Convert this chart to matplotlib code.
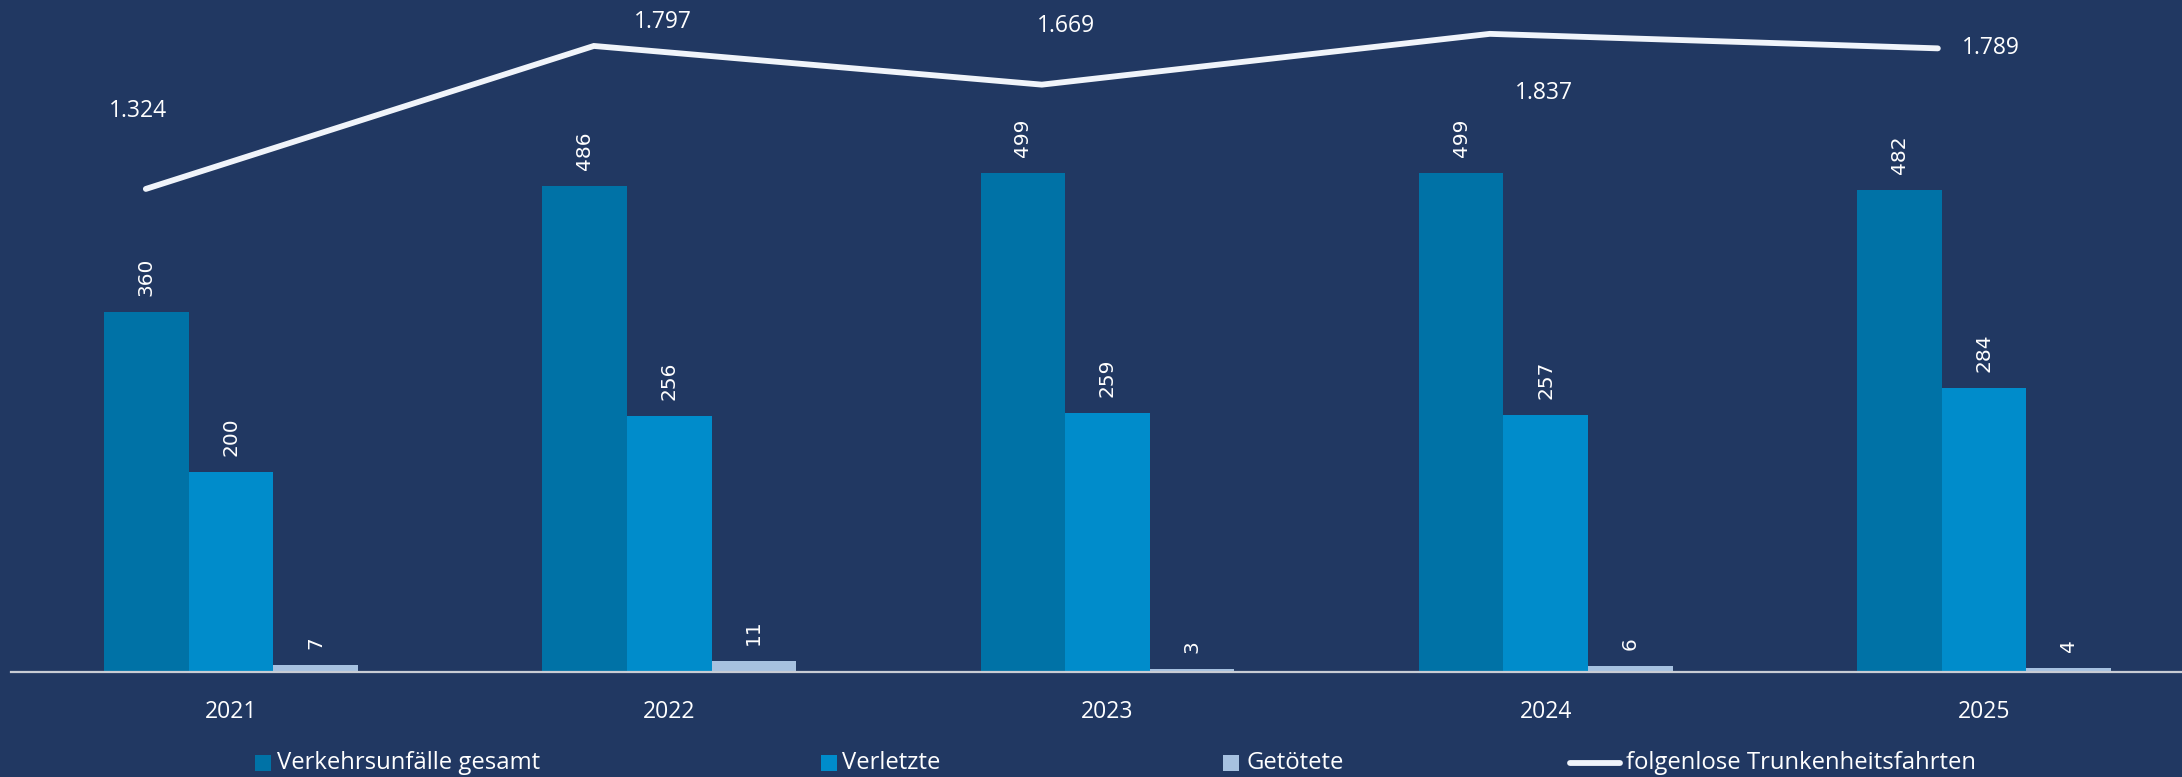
import numpy as np
import matplotlib
matplotlib.use("Agg")
import matplotlib.pyplot as plt
from matplotlib.patches import Rectangle
from matplotlib.lines import Line2D

# Datos
years = ['2021', '2022', '2023', '2024', '2025']
unfaelle = [360, 486, 499, 499, 482]
verletzte = [200, 256, 259, 257, 284]
getoetete = [7, 11, 3, 6, 4]
trunkenheit = [1324, 1797, 1669, 1837, 1789]
seriesNames = ['Verkehrsunfälle gesamt', 'Verletzte', 'Getötete', 'folgenlose Trunkenheitsfahrten']

BG = '#213862'
C1 = '#0072a6'
C2 = '#008ccb'
C3 = '#a6c1e0'
LINEC = '#f0f4fa'
FONT = ['Open Sans', 'DejaVu Sans']

W, H = 2182, 777
fig = plt.figure(figsize=(W / 100, H / 100), dpi=100, facecolor=BG)

def fx(px):
    return px / W

def fy(py):
    return 1 - py / H

# Barras
ax = fig.add_axes([fx(11), fy(672), fx(2171), 672 / H])
ax.set_facecolor(BG)
x = np.arange(len(years))
w = 0.193
for vals, off, col in [(unfaelle, -w, C1), (verletzte, 0, C2), (getoetete, w, C3)]:
    bars = ax.bar(x + off, vals, width=w, color=col, zorder=2)
    for b, v in zip(bars, vals):
        ax.annotate(str(v), (b.get_x() + b.get_width() / 2, v), xytext=(0, 16),
                    textcoords='offset pixels', rotation=90, ha='center', va='bottom',
                    color='white', fontsize=14.5, family='DejaVu Sans')
ax.set_xlim(-0.502, 4.452)
ax.set_ylim(0, 672)
for s in ['top', 'left', 'right']:
    ax.spines[s].set_visible(False)
ax.spines['bottom'].set_color('#c8ccd4')
ax.spines['bottom'].set_linewidth(1.6)
ax.spines['bottom'].set_zorder(3)
ax.set_yticks([])
ax.set_xticks(x)
ax.set_xticklabels(years, color='white', fontsize=16.5, family=FONT)
ax.tick_params(axis='x', length=0, pad=20)

# Linea
ax2 = fig.add_axes([fx(11), fy(672), fx(2171), 672 / H])
ax2.patch.set_alpha(0)
ax2.axis('off')
ax2.plot(x, trunkenheit, color=LINEC, linewidth=4.2, solid_capstyle='round', solid_joinstyle='miter')
ax2.set_xlim(-0.301, 4.545)
ax2.set_ylim(-274, 1949)
labelOffsets = [(-8, 78), (69, 24), (24, 59), (54, -59), (53, 0)]
for xi, v, off in zip(x, trunkenheit, labelOffsets):
    ax2.annotate(f"{v:,}".replace(',', '.'), (xi, v), xytext=off, textcoords='offset pixels',
                 ha='center', va='center', color='white', fontsize=16.5, family=FONT)

# Leyenda
legendItems = [(255, 277, C1, 'box'), (821, 842, C2, 'box'), (1223, 1246, C3, 'box'), (1567, 1626, LINEC, 'line')]
for (mx, tx, col, kind), name in zip(legendItems, seriesNames):
    if kind == 'box':
        fig.patches.append(Rectangle((fx(mx), fy(771)), fx(16), 16 / H, transform=fig.transFigure,
                                     facecolor=col, edgecolor='none'))
    else:
        fig.lines.append(Line2D([fx(mx + 3), fx(mx + 53)], [fy(763), fy(763)], transform=fig.transFigure,
                                color=col, linewidth=4.2, solid_capstyle='round'))
    fig.text(fx(tx), fy(763), name, color='white', fontsize=17.2, family=FONT, va='center', ha='left')

fig.savefig('out.png', dpi=100, facecolor=BG)
